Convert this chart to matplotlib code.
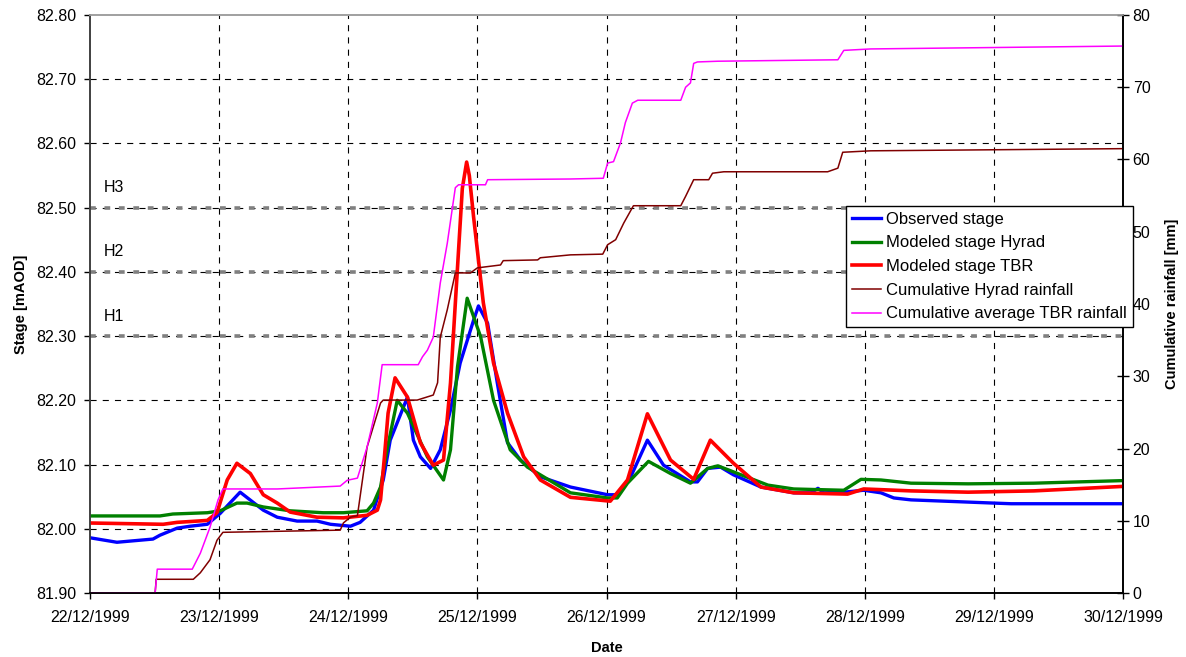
import numpy as np
import matplotlib
matplotlib.use("Agg")
import matplotlib.pyplot as plt
import matplotlib.dates as mdates

plt.rcParams['font.family'] = ['Liberation Sans', 'DejaVu Sans']

START = np.datetime64('1999-12-22T00:00')

# hours after 22/12/1999 00:00 and stage [mAOD]
obs_h = [0, 5.0, 11.7, 13.0, 16.2, 18.6, 21.8, 24.2, 27.9, 32.2, 34.8, 38.5, 42.2, 44.7, 48.4,
         50.2, 52.7, 54.5, 55.8, 59.0, 60.1, 61.4, 63.3, 65.1, 67.0, 68.8, 71.3, 72.2, 73.9,
         75.7, 77.6, 80.0, 83.7, 89.3, 96.2, 98.0, 100.5, 103.6, 106.6, 111.6, 112.9, 114.8,
         117.2, 119.6, 124.7, 130.8, 134.0, 135.3, 136.4, 140.1, 143.8, 147.0, 149.4, 152.6,
         168.0, 171.2, 192]
obs_stage = [81.986, 81.979, 81.984, 81.990, 82.001, 82.004, 82.007, 82.024, 82.057, 82.029,
             82.018, 82.012, 82.012, 82.007, 82.004, 82.010, 82.029, 82.076, 82.138, 82.205,
             82.138, 82.112, 82.094, 82.123, 82.185, 82.258, 82.325, 82.347, 82.320, 82.227,
             82.134, 82.107, 82.081, 82.065, 82.053, 82.053, 82.081, 82.138, 82.099, 82.073,
             82.073, 82.094, 82.096, 82.084, 82.065, 82.056, 82.056, 82.063, 82.056, 82.057,
             82.060, 82.056, 82.048, 82.045, 82.040, 82.039, 82.039]

hyr_h = [0, 13.0, 15.4, 21.8, 24.2, 27.3, 29.2, 32.2, 37.2, 43.3, 47.1, 51.5, 52.7, 54.0, 55.3,
         57.1, 59.0, 62.7, 65.7, 67.0, 68.3, 70.1, 72.6, 75.0, 78.1, 81.3, 89.3, 96.2, 98.0,
         99.9, 103.8, 107.9, 111.6, 114.8, 116.7, 120.4, 126.0, 130.8, 140.1, 143.3, 147.0,
         152.6, 163.2, 175.4, 192]
hyr_stage = [82.020, 82.020, 82.023, 82.025, 82.028, 82.040, 82.040, 82.034, 82.028, 82.025,
             82.025, 82.028, 82.040, 82.065, 82.127, 82.200, 82.180, 82.112, 82.076, 82.123,
             82.252, 82.359, 82.299, 82.200, 82.123, 82.096, 82.056, 82.048, 82.048, 82.071,
             82.105, 82.086, 82.071, 82.094, 82.098, 82.086, 82.068, 82.062, 82.060, 82.077,
             82.076, 82.071, 82.070, 82.071, 82.075]

tbr_h = [0, 13.6, 16.2, 21.8, 23.6, 25.5, 27.3, 29.8, 32.2, 34.8, 37.2, 42.2, 47.1, 51.5, 53.4,
         54.0, 54.7, 55.4, 56.7, 59.0, 61.4, 63.8, 65.7, 67.0, 68.5, 69.2, 70.0, 70.5, 71.3,
         73.1, 75.0, 77.6, 80.6, 83.7, 89.3, 96.7, 99.9, 103.6, 107.9, 112.2, 115.3, 119.6,
         124.7, 130.8, 140.8, 143.8, 152.6, 163.2, 175.4, 192]
tbr_stage = [82.009, 82.007, 82.010, 82.013, 82.025, 82.076, 82.102, 82.086, 82.053, 82.040,
             82.026, 82.018, 82.017, 82.021, 82.029, 82.045, 82.110, 82.180, 82.235, 82.205,
             82.134, 82.099, 82.107, 82.227, 82.434, 82.530, 82.571, 82.550, 82.485, 82.352,
             82.258, 82.180, 82.112, 82.076, 82.049, 82.043, 82.076, 82.179, 82.107, 82.077,
             82.138, 82.102, 82.065, 82.056, 82.054, 82.062, 82.059, 82.057, 82.059, 82.066]

# cumulative rainfall [mm]
cum_hyr_h = [0, 12.1, 12.3, 19.2, 20.5, 22.3, 23.6, 24.7, 46.5, 47.1, 48.4, 49.7, 51.5, 54.0,
             54.5, 60.8, 63.8, 64.6, 65.1, 66.4, 67.9, 70.7, 72.0, 76.3, 76.8, 83.2, 83.7, 89.3,
             95.3, 96.2, 97.7, 99.2, 101.0, 109.8, 110.7, 112.2, 115.0, 115.7, 117.8, 137.1,
             139.0, 139.9, 145.1, 192]
cum_hyr = [0, 0, 1.9, 1.9, 2.8, 4.6, 7.3, 8.4, 8.7, 9.7, 10.5, 10.7, 20.2, 26.3, 26.7, 26.7,
           27.4, 29.1, 35.4, 39.2, 44.3, 44.3, 45.0, 45.4, 46.0, 46.1, 46.4, 46.8, 46.9, 48.2,
           48.9, 51.2, 53.6, 53.6, 54.9, 57.2, 57.2, 58.1, 58.3, 58.3, 58.8, 61.0, 61.2, 61.5]

cum_tbr_h = [0, 12.1, 12.5, 19.0, 20.5, 22.3, 23.8, 24.7, 34.8, 46.5, 47.8, 49.7, 51.5, 53.4,
             54.3, 61.0, 61.8, 62.7, 63.8, 65.1, 66.4, 67.9, 68.5, 73.5, 73.9, 89.3, 95.4, 96.2,
             97.3, 98.6, 99.5, 100.8, 101.8, 109.8, 110.7, 111.6, 112.2, 112.9, 116.7, 139.0,
             140.1, 145.1, 192]
cum_tbr = [0, 0, 3.3, 3.3, 5.5, 9.1, 12.9, 14.4, 14.4, 14.8, 15.6, 15.9, 20.2, 26.3, 31.6, 31.6,
           32.7, 33.6, 35.4, 42.9, 48.4, 56.1, 56.5, 56.5, 57.2, 57.3, 57.4, 59.5, 59.7, 62.3,
           65.1, 67.8, 68.2, 68.2, 70.0, 70.6, 73.3, 73.5, 73.6, 73.8, 75.1, 75.3, 75.7]

thresholds = [82.30, 82.40, 82.50]
threshold_names = ['H1', 'H2', 'H3']


def to_time(hours):
    minutes = np.round(np.asarray(hours) * 60).astype(int)
    return (START + minutes.astype('timedelta64[m]')).astype('datetime64[ms]')


fig = plt.figure(figsize=(11.86, 6.57), dpi=100)
ax = fig.add_axes([0.0759, 0.0974, 0.8710, 0.8798])
ax2 = ax.twinx()

GRID = dict(color='black', lw=0.8, dashes=(5.5, 5.5))
for d in range(1, 8):
    ax.axvline(to_time(24 * d), zorder=1, **GRID)
for v in np.arange(82.0, 82.75, 0.1):
    ax.axhline(v, zorder=1, **GRID)
for v, name in zip(thresholds, threshold_names):
    ax.axhline(v, color='#808080', lw=2.6, dashes=(1.6, 2.4), zorder=1.5)
    ax.text(to_time(2.6), v + 0.031, name, fontsize=11.5, va='center', ha='left')

l1, = ax.plot(to_time(obs_h), obs_stage, color='#0000FF', lw=2.4, label='Observed stage', zorder=3)
l2, = ax.plot(to_time(hyr_h), hyr_stage, color='#008000', lw=2.4, label='Modeled stage Hyrad', zorder=3)
l3, = ax.plot(to_time(tbr_h), tbr_stage, color='#FF0000', lw=2.6, label='Modeled stage TBR', zorder=3)
l4, = ax2.plot(to_time(cum_hyr_h), cum_hyr, color='#800000', lw=1.1, label='Cumulative Hyrad rainfall')
l5, = ax2.plot(to_time(cum_tbr_h), cum_tbr, color='#FF00FF', lw=1.1, label='Cumulative average TBR rainfall')

ax.set_xlim(to_time(0), to_time(192))
ax.set_ylim(81.90, 82.80)
ax.set_yticks(np.arange(81.90, 82.81, 0.10))
ax.yaxis.set_major_formatter(matplotlib.ticker.FormatStrFormatter('%.2f'))
ax2.set_ylim(0, 80)
ax2.set_yticks(range(0, 81, 10))

ax.xaxis.set_major_locator(mdates.DayLocator())
ax.xaxis.set_major_formatter(mdates.DateFormatter('%d/%m/%Y'))

ax.tick_params(axis='both', direction='out', length=4, width=1, labelsize=11.5, pad=6)
ax.tick_params(axis='x', pad=8)
ax2.tick_params(axis='y', direction='inout', length=8, width=1, labelsize=11.5, pad=3)

for a in (ax, ax2):
    a.spines['top'].set_color('#a0a0a0')
    a.spines['left'].set_color('#404040')
    a.spines['bottom'].set_color('black')
    a.spines['right'].set_color('black')
    for s in a.spines.values():
        s.set_linewidth(1.2)

ax.set_xlabel('Date', fontsize=10.5, fontweight='bold', labelpad=12)
ax.set_ylabel('Stage [mAOD]', fontsize=10.5, fontweight='bold', labelpad=6)
ax2.set_ylabel('Cumulative rainfall [mm]', fontsize=10.5, fontweight='bold', labelpad=10)

leg = ax2.legend(handles=[l1, l2, l3, l4, l5], loc='upper left',
                 bbox_to_anchor=(0.7133, 0.6865), bbox_transform=fig.transFigure,
                 fontsize=12, frameon=True, fancybox=False, framealpha=1,
                 edgecolor='black', handlelength=1.75, handletextpad=0.3,
                 labelspacing=0.52, borderpad=0.35, borderaxespad=0)
leg.get_frame().set_linewidth(1.0)
leg.set_zorder(10)

fig.savefig('out.png', dpi=100)
